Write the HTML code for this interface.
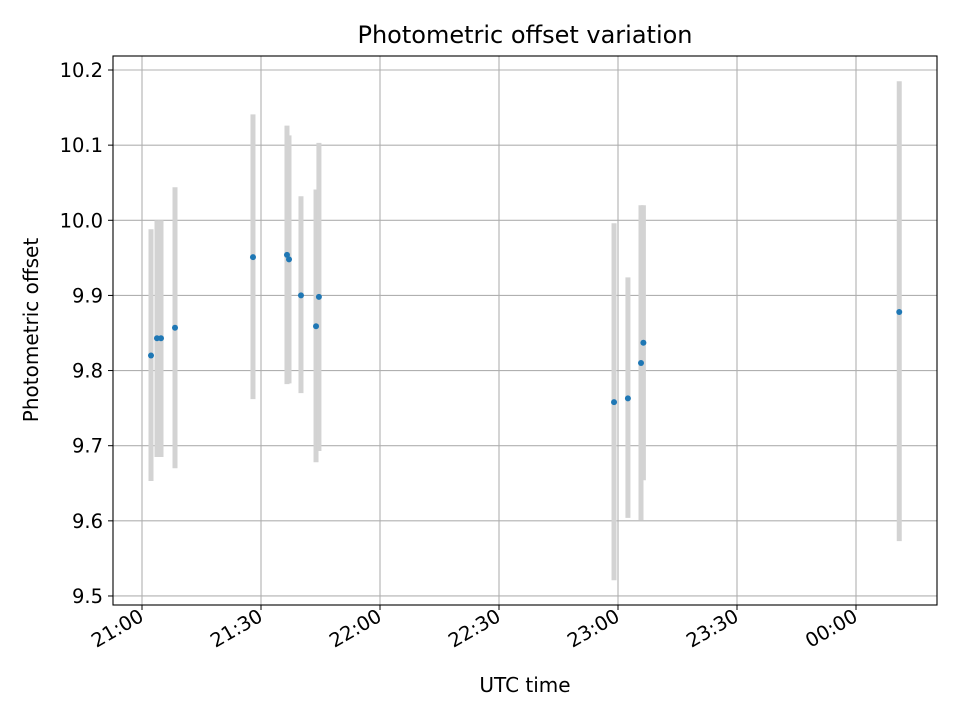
<!DOCTYPE html>
<html><head><meta charset="utf-8"><style>
body{margin:0;background:#fff;font-family:"Liberation Sans","DejaVu Sans",sans-serif;}
svg text{font-family:"DejaVu Sans","Liberation Sans",sans-serif;}
</style></head><body>
<svg id="chart" width="960" height="720" xmlns="http://www.w3.org/2000/svg">
<rect width="960" height="720" fill="#fff"/>
<g id="grid"></g>
<g id="errs"></g>
<g id="pts"></g>
<rect x="113" y="56" width="824" height="549" fill="none" stroke="#000" stroke-width="1.1"/>
<g id="ticks"></g>
<text x="525" y="43" text-anchor="middle" font-size="24">Photometric offset variation</text>
<text x="525" y="692" text-anchor="middle" font-size="20">UTC time</text>
<text transform="translate(38,330) rotate(-90)" text-anchor="middle" font-size="20">Photometric offset</text>
</svg>
<script>
// minutes after 21:00 UTC
const times = [2.27, 3.78, 4.79, 8.32, 27.98, 36.55, 37.06, 40.08, 43.87, 44.6, 119.0, 122.5, 125.8, 126.4, 190.9];
const offsets = [9.820, 9.843, 9.843, 9.857, 9.951, 9.954, 9.948, 9.900, 9.859, 9.898, 9.758, 9.763, 9.810, 9.837, 9.878];
const upper = [9.988, 10.000, 10.000, 10.044, 10.141, 10.126, 10.113, 10.032, 10.041, 10.103, 9.996, 9.924, 10.020, 10.020, 10.185];
const lower = [9.653, 9.685, 9.685, 9.670, 9.762, 9.782, 9.783, 9.770, 9.678, 9.693, 9.521, 9.604, 9.601, 9.654, 9.573];
const yTicks = [9.5, 9.6, 9.7, 9.8, 9.9, 10.0, 10.1, 10.2];
const xTickMinutes = [0, 30, 60, 90, 120, 150, 180];
const xTickLabels = ["21:00", "21:30", "22:00", "22:30", "23:00", "23:30", "00:00"];

const NS = "http://www.w3.org/2000/svg";
const xs = m => 142 + (m / 30) * 119;
const ys = v => 70 + (10.2 - v) * 751.4;
function mk(tag, attrs, parent) {
  const e = document.createElementNS(NS, tag);
  for (const k in attrs) e.setAttribute(k, attrs[k]);
  document.getElementById(parent).appendChild(e);
  return e;
}
yTicks.forEach((v, i) => {
  const y = ys(v);
  const g = mk("line", {x1: 113, x2: 937, y1: y, y2: y, stroke: "#b0b0b0", "stroke-width": 1.1}, "grid");
  
  
  const t = mk("line", {x1: 108, x2: 113, y1: y, y2: y, stroke: "#000", "stroke-width": 1}, "ticks");
  
  
  const l = mk("text", {x: 103, y: y + 7, "text-anchor": "end", "font-size": 19.5}, "ticks");
  l.textContent = v.toFixed(1);
  
  
});
xTickMinutes.forEach((m, i) => {
  const x = xs(m);
  const g = mk("line", {x1: x, x2: x, y1: 56, y2: 605, stroke: "#b0b0b0", "stroke-width": 1.1}, "grid");
  
  
  const t = mk("line", {x1: x, x2: x, y1: 605, y2: 610, stroke: "#000", "stroke-width": 1}, "ticks");
  
  
  const l = mk("text", {transform: `translate(${x + 3},${620}) rotate(-30)`, "text-anchor": "end", "font-size": 19.5}, "ticks");
  l.textContent = xTickLabels[i];
  
  
});
times.forEach((m, i) => {
  const x = xs(m);
  const e = mk("line", {x1: x, x2: x, y1: ys(upper[i]), y2: ys(lower[i]), stroke: "#d3d3d3", "stroke-width": 5}, "errs");
  
  
});
times.forEach((m, i) => {
  const p = mk("circle", {cx: xs(m), cy: ys(offsets[i]), r: 3, fill: "#1f77b4"}, "pts");
  
  
});
</script>
</body></html>
